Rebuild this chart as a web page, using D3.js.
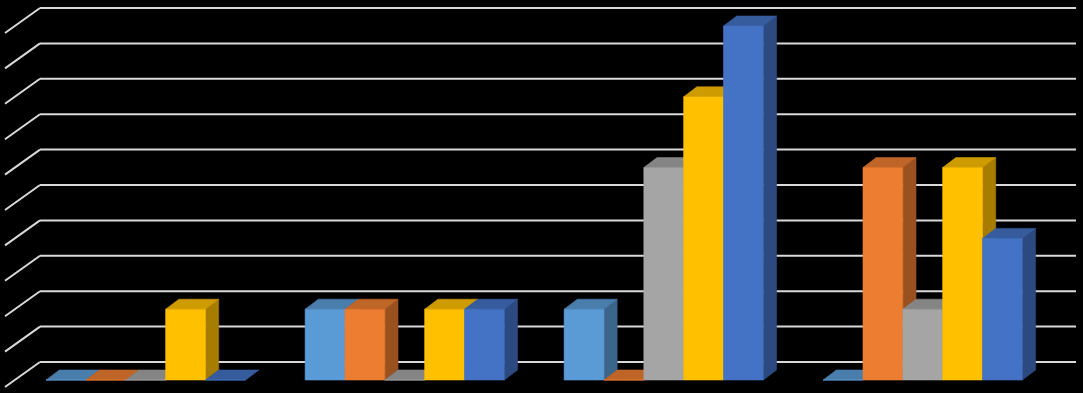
<!DOCTYPE html>
<html>
<head>
<meta charset="utf-8">
<script src="https://cdn.jsdelivr.net/npm/d3@7"></script>
<style>
  html, body { margin: 0; padding: 0; background: #000; overflow: hidden; }
</style>
</head>
<body>
<script>
// chart data
var categories = ["Category 1", "Category 2", "Category 3", "Category 4"];
var seriesNames = ["Series 1", "Series 2", "Series 3", "Series 4", "Series 5"];
var series1 = [0, 2, 2, 0];
var series2 = [0, 2, 0, 6];
var series3 = [0, 0, 6, 2];
var series4 = [2, 2, 8, 6];
var series5 = [0, 2, 10, 4];
var yTicks = [0, 1, 2, 3, 4, 5, 6, 7, 8, 9, 10];
var colors = ["#5B9BD5", "#ED7D31", "#A5A5A5", "#FFC000", "#4472C4"];

var allSeries = [series1, series2, series3, series4, series5];

var width = 1083, height = 393;

// oblique 3d: depth moves right and up
var slant = 1.32,
    wallDepth = 25,
    barFront = 7,
    barBack = 17;

function proj(x, y, z) {
    return [x + slant * z, y - z];
}

var svg = d3.select("body").append("svg")
    .attr("width", width)
    .attr("height", height)
    .style("background", "#000");

var x0 = d3.scaleBand()
    .domain(categories)
    .range([7, 1043])
    .paddingInner(60 / 260)
    .paddingOuter(30 / 260);

var x1 = d3.scaleBand()
    .domain(seriesNames)
    .range([0, x0.bandwidth()]);

var y = d3.scaleLinear()
    .domain([0, 10])
    .range([387, 33]);

var left = x0.range()[0], right = x0.range()[1];

// gridlines on the back wall and the side wall
var grid = svg.append("g")
    .attr("stroke", "#D9D9D9")
    .attr("stroke-width", 2)
    .attr("fill", "none");

grid.selectAll("line.back")
    .data(yTicks)
    .enter().append("line")
    .attr("class", "back")
    .attr("x1", function(d) { return proj(left, y(d), wallDepth)[0]; })
    .attr("y1", function(d) { return proj(left, y(d), wallDepth)[1]; })
    .attr("x2", function(d) { return proj(right, y(d), wallDepth)[0]; })
    .attr("y2", function(d) { return proj(right, y(d), wallDepth)[1]; });

grid.selectAll("line.side")
    .data(yTicks)
    .enter().append("line")
    .attr("class", "side")
    .attr("x1", function(d) { return proj(left - 2, y(d), 0)[0]; })
    .attr("y1", function(d) { return proj(left - 2, y(d), 0)[1]; })
    .attr("x2", function(d) { return proj(left, y(d), wallDepth)[0]; })
    .attr("y2", function(d) { return proj(left, y(d), wallDepth)[1]; });

// build the bar list
var bars = [];
categories.forEach(function(c, ci) {
    seriesNames.forEach(function(s, si) {
        bars.push({ cat: c, name: s, value: allSeries[si][ci], color: colors[si] });
    });
});

function pts(list) {
    return list.map(function(p) { return p.join(","); }).join(" ");
}

var g = svg.append("g")
    .attr("stroke-width", 0.6)
    .attr("stroke-linejoin", "round");

var bar = g.selectAll("g.bar")
    .data(bars)
    .enter().append("g")
    .attr("class", "bar");

function sideColor(d) { return d3.color(d.color).darker(1.2); }
function topColor(d) { return d3.color(d.color).darker(0.6); }

// side face
bar.append("polygon")
    .attr("fill", sideColor)
    .attr("stroke", sideColor)
    .attr("points", function(d) {
        var xr = x0(d.cat) + x1(d.name) + x1.bandwidth();
        return pts([proj(xr, y(d.value), barFront), proj(xr, y(0), barFront),
                    proj(xr, y(0), barBack), proj(xr, y(d.value), barBack)]);
    });

// top face
bar.append("polygon")
    .attr("fill", topColor)
    .attr("stroke", topColor)
    .attr("points", function(d) {
        var xl = x0(d.cat) + x1(d.name), xr = xl + x1.bandwidth();
        return pts([proj(xl, y(d.value), barFront), proj(xr, y(d.value), barFront),
                    proj(xr, y(d.value), barBack), proj(xl, y(d.value), barBack)]);
    });

// front face
bar.append("polygon")
    .attr("fill", function(d) { return d.color; })
    .attr("stroke", function(d) { return d.color; })
    .attr("points", function(d) {
        var xl = x0(d.cat) + x1(d.name), xr = xl + x1.bandwidth();
        return pts([proj(xl, y(d.value), barFront), proj(xr, y(d.value), barFront),
                    proj(xr, y(0), barFront), proj(xl, y(0), barFront)]);
    });
</script>
</body>
</html>
